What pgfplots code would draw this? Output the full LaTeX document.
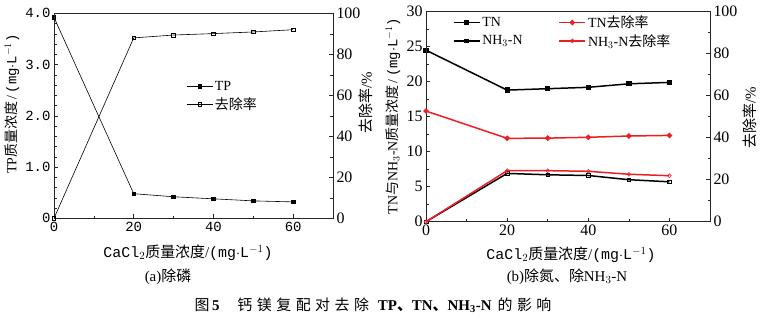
\documentclass[border=0pt]{standalone}
\usepackage{fontspec}
\setmainfont{Liberation Serif}
\newfontfamily\cjk{Noto Sans CJK SC}
\newfontfamily\cjkcap[LetterSpace=30]{Noto Sans CJK SC}
\newfontfamily\mono{Liberation Mono}
\usepackage{pgfplots}
\pgfplotsset{compat=1.18}
\newcommand{\fs}[1]{\fontsize{#1}{#1}\selectfont}
\definecolor{myred}{RGB}{235,30,36}

\pgfplotstableread{
x  y
0  3.92
20 0.48
30 0.42
40 0.38
50 0.34
60 0.32
}\TP
\pgfplotstableread{
x  y
0  0
20 88.0
30 89.4
40 90.1
50 90.9
60 92.0
}\TPrem
\pgfplotstableread{
x  y
0  24.5
20 18.8
30 19.0
40 19.2
50 19.7
60 19.9
}\TN
\pgfplotstableread{
x  y
0  0
20 6.9
30 6.7
40 6.6
50 6.0
60 5.7
}\NH
\pgfplotstableread{
x  y
0  52.7
20 39.7
30 39.8
40 40.2
50 40.8
60 41.1
}\TNrem
\pgfplotstableread{
x  y
0  0
20 24.3
30 24.3
40 24.0
50 22.6
60 21.9
}\NHrem

\pgfplotsset{
  base/.style={scale only axis, anchor=south west,
    xmin=0, xmax=70, tick align=inside,
    axis line style={black!85, line width=0.6pt},
    major tick length=4bp, minor tick length=2.5bp,
    every tick/.style={black!85, line width=0.5pt},
    clip=false},
  myleg/.style={legend image code/.code={%
      \draw[mark repeat=2,mark phase=2,##1] plot coordinates {(0bp,0bp) (13bp,0bp) (26bp,0bp)};}},
}

\begin{document}
\begin{tikzpicture}
% ---------------- (a) ----------------
\begin{axis}[base, at={(54bp,-218.3bp)}, width=279bp, height=205bp,
  ymin=0, ymax=4, xtick={0,20,40,60}, minor x tick num=1,
  ytick={0,1,2,3,4}, yticklabels={0,1.0,2.0,3.0,4.0}, minor y tick num=4,
  xtick pos=bottom, ytick pos=left,
  ticklabel style={font=\mono\fs{14}},
  /pgf/number format/assume math mode=true]
\addplot[black, line width=0.6pt, mark=square*, mark size=1.8pt] table[x=x,y=y] {\TP};
\end{axis}
\begin{axis}[base, at={(54bp,-218.3bp)}, width=279bp, height=205bp,
  ymin=0, ymax=100, ytick={0,20,40,60,80,100}, minor y tick num=1,
  xtick=\empty, ytick pos=right, yticklabel pos=right,
  ticklabel style={font=\fs{16}},
  /pgf/number format/assume math mode=true,
  myleg, legend cell align=left,
  legend style={draw=none, fill=none, at={(0.47,0.685)}, anchor=north west,
    font=\fs{14}, row sep=2bp, inner sep=1bp}]
\addlegendimage{black, line width=0.6pt, mark=square*, mark size=1.8pt}
\addlegendentry{TP}
\addplot[black, line width=0.6pt, mark=square, mark options={fill=white}, mark size=1.8pt] table[x=x,y=y] {\TPrem};
\addlegendentry{\cjk 去除率}
\end{axis}
\node[rotate=90, font=\fs{14}] at (12bp,-104bp) {TP{\cjk 质量浓度}\,/\,{\mono(mg$\cdot$L$^{-1}$)}};
\node[rotate=90, font=\fs{15}] at (366bp,-103bp) {{\cjk 去除率}/\%};
\node[font=\fs{15}] at (188bp,-253bp) {{\mono CaCl$_2$}{\cjk 质量浓度}/{\mono(mg$\cdot$L$^{-1}$)}};
\node[font=\fs{15}] at (168bp,-277bp) {(a){\cjk 除磷}};

% ---------------- (b) ----------------
\begin{axis}[base, at={(426bp,-221.7bp)}, width=284bp, height=210bp,
  ymin=0, ymax=30, xtick={0,20,40,60}, minor x tick num=1,
  ytick={0,5,10,15,20,25,30}, minor y tick num=1,
  xtick pos=bottom, ytick pos=left,
  ticklabel style={font=\fs{16}},
  /pgf/number format/assume math mode=true]
\addplot[black, line width=1.5pt, mark=square*, mark size=1.9pt] table[x=x,y=y] {\TN};
\addplot[black, line width=1.5pt, mark=square, mark options={fill=white, line width=0.6pt}, mark size=1.9pt] table[x=x,y=y] {\NH};
\end{axis}
\begin{axis}[base, at={(426bp,-221.7bp)}, width=284bp, height=210bp,
  ymin=0, ymax=100, ytick={0,20,40,60,80,100}, minor y tick num=1,
  xtick=\empty, ytick pos=right, yticklabel pos=right,
  ticklabel style={font=\fs{16}},
  /pgf/number format/assume math mode=true,
  myleg, legend cell align=left, legend columns=2,
  legend style={draw=none, fill=none, at={(0.09,0.995)}, anchor=north west,
    font=\fs{14}, row sep=1bp, inner sep=1bp,
    /tikz/every even column/.append style={column sep=34bp}}]
\addlegendimage{black, line width=1.5pt, mark=square*, mark size=1.9pt}
\addlegendentry{TN}
\addplot[myred, line width=1.5pt, mark=*, mark size=1.9pt] table[x=x,y=y] {\TNrem};
\addlegendentry{TN{\cjk 去除率}}
\addlegendimage{black, line width=1.5pt, mark=square, mark options={fill=white, line width=0.6pt}, mark size=1.9pt}
\addlegendentry{NH$_3$-N}
\addplot[myred, line width=1.5pt, mark=o, mark options={fill=white, line width=0.6pt}, mark size=1.9pt] table[x=x,y=y] {\NHrem};
\addlegendentry{NH$_3$-N{\cjk 去除率}}
\end{axis}
\node[rotate=90, font=\fs{14}] at (393bp,-116bp) {TN{\cjk 与}NH$_3$-N{\cjk 质量浓度}\,/\,{\mono(mg$\cdot$L$^{-1}$)}};
\node[rotate=90, font=\fs{15}] at (750bp,-118bp) {{\cjk 去除率}/\%};
\node[font=\fs{15}] at (571bp,-255bp) {{\mono CaCl$_2$}{\cjk 质量浓度}/{\mono(mg$\cdot$L$^{-1}$)}};
\node[font=\fs{15}] at (567bp,-277bp) {(b){\cjk 除氮、除}NH$_3$-N};

% caption
\node[font=\fs{15}] at (373bp,-305bp) {{\cjkcap 图}\,\textbf{5}\hspace{1.2em}{\cjkcap 钙镁复配对去除}\hspace{0.3em}\textbf{TP{\cjk 、}TN{\cjk 、}NH$_\mathbf{3}$-N}\hspace{0.4em}{\cjkcap 的影响}};

\pgfresetboundingbox
\path[use as bounding box] (0,0) rectangle (766bp,-324bp);
\end{tikzpicture}
\end{document}
